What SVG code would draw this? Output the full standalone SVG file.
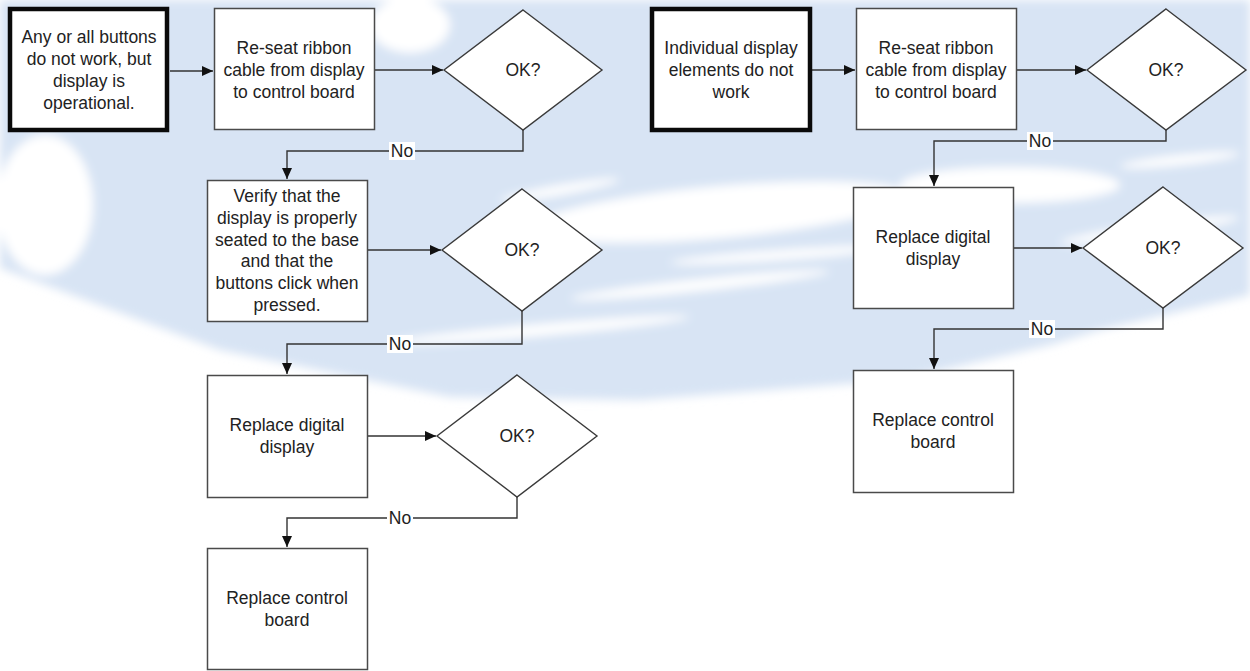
<svg xmlns="http://www.w3.org/2000/svg" width="1250" height="671" viewBox="0 0 1250 671">
<defs>
<style>
.t{font-family:"Liberation Sans",Arial,sans-serif;font-size:17.5px;fill:#222;text-anchor:middle}
.box{fill:#fff;stroke:#4a4a4a;stroke-width:1.5}
.start{fill:#fff;stroke:#0a0a0a;stroke-width:4.5}
.dia{fill:#fff;stroke:#3a3a3a;stroke-width:1.4}
.c{fill:none;stroke:#333;stroke-width:1.4}
.lb{fill:#fff}
.w{fill:#fff}
</style>
<marker id="ah" markerUnits="userSpaceOnUse" markerWidth="12" markerHeight="10" refX="11" refY="5" orient="auto">
<path d="M0,0 L11,5 L0,10 z" fill="#111"/>
</marker>
<filter id="blur" x="-10%" y="-10%" width="120%" height="120%"><feGaussianBlur stdDeviation="5"/></filter>
</defs>
<rect width="1250" height="671" fill="#fff"/>
<g id="watermark" filter="url(#blur)">
<path d="M0,0 L1250,0 L1250,295 L1100,330 L1050,345 L900,380 L640,400 L450,397 L220,350 L0,268 Z" fill="#d8e4f4"/>
<ellipse class="w" cx="45" cy="205" rx="48" ry="70"/>
<ellipse class="w" cx="720" cy="212" rx="190" ry="26" transform="rotate(-5 720 212)"/>
<ellipse class="w" cx="1010" cy="185" rx="110" ry="18"/>
<ellipse class="w" cx="540" cy="330" rx="150" ry="6" transform="rotate(-5 540 330)"/>
<ellipse class="w" cx="700" cy="285" rx="130" ry="6" transform="rotate(-6 700 285)"/>
<ellipse class="w" cx="780" cy="255" rx="110" ry="5" transform="rotate(-4 780 255)"/>
<ellipse class="w" cx="410" cy="25" rx="40" ry="28"/>
<ellipse class="w" cx="1150" cy="230" rx="90" ry="6" transform="rotate(-8 1150 230)"/>
<ellipse class="w" cx="1180" cy="160" rx="60" ry="5" transform="rotate(-6 1180 160)"/>
<ellipse class="w" cx="560" cy="190" rx="60" ry="5" transform="rotate(-10 560 190)"/>
</g>
<g id="connectors">
<path class="c" d="M170,71 H213" marker-end="url(#ah)"/>
<path class="c" d="M375,70 H443" marker-end="url(#ah)"/>
<path class="c" d="M523,130 V151 H287 V179" marker-end="url(#ah)"/>
<path class="c" d="M368,250 H441" marker-end="url(#ah)"/>
<path class="c" d="M522,311 V344 H287 V374" marker-end="url(#ah)"/>
<path class="c" d="M368,436 H436" marker-end="url(#ah)"/>
<path class="c" d="M517,497 V518 H287 V547" marker-end="url(#ah)"/>
<path class="c" d="M812,70 H855" marker-end="url(#ah)"/>
<path class="c" d="M1017,70 H1086" marker-end="url(#ah)"/>
<path class="c" d="M1166,130 V141 H934 V186" marker-end="url(#ah)"/>
<path class="c" d="M1014,248 H1082" marker-end="url(#ah)"/>
<path class="c" d="M1163,308 V329 H934 V369" marker-end="url(#ah)"/>
<rect class="lb" x="389" y="142" width="26" height="18"/><text class="t" x="402" y="157">No</text>
<rect class="lb" x="387" y="335" width="26" height="18"/><text class="t" x="400" y="350">No</text>
<rect class="lb" x="387" y="509" width="26" height="18"/><text class="t" x="400" y="524">No</text>
<rect class="lb" x="1027" y="132" width="26" height="18"/><text class="t" x="1040" y="147">No</text>
<rect class="lb" x="1029" y="320" width="26" height="18"/><text class="t" x="1042" y="335">No</text>
</g>
<g id="start1"><rect class="start" x="10" y="9" width="157" height="121"/>
<text class="t" x="89" y="43">Any or all buttons</text><text class="t" x="89" y="65">do not work, but</text><text class="t" x="89" y="87">display is</text><text class="t" x="89" y="109">operational.</text></g>
<g id="reseat1"><rect class="box" x="214.5" y="8.5" width="160" height="121"/>
<text class="t" x="294" y="54">Re-seat ribbon</text><text class="t" x="294" y="76">cable from display</text><text class="t" x="294" y="98">to control board</text></g>
<g id="ok1"><polygon class="dia" points="523,10 602,70 523,130 444,70"/><text class="t" x="523" y="76">OK?</text></g>
<g id="verify"><rect class="box" x="207.5" y="180.5" width="160" height="141"/>
<text class="t" x="287" y="202">Verify that the</text><text class="t" x="287" y="224">display is properly</text><text class="t" x="287" y="246">seated to the base</text><text class="t" x="287" y="267">and that the</text><text class="t" x="287" y="289">buttons click when</text><text class="t" x="287" y="311">pressed.</text></g>
<g id="ok2"><polygon class="dia" points="522,189 602,250 522,311 442,250"/><text class="t" x="522" y="256">OK?</text></g>
<g id="digital1"><rect class="box" x="207.5" y="375.5" width="160" height="122"/>
<text class="t" x="287" y="431">Replace digital</text><text class="t" x="287" y="453">display</text></g>
<g id="ok3"><polygon class="dia" points="517,375 597,436 517,497 437,436"/><text class="t" x="517" y="442">OK?</text></g>
<g id="control1"><rect class="box" x="207.5" y="548.5" width="160" height="121"/>
<text class="t" x="287" y="604">Replace control</text><text class="t" x="287" y="626">board</text></g>
<g id="start2"><rect class="start" x="652" y="9" width="158" height="121"/>
<text class="t" x="731" y="54">Individual display</text><text class="t" x="731" y="76">elements do not</text><text class="t" x="731" y="98">work</text></g>
<g id="reseat2"><rect class="box" x="856.5" y="8.5" width="160" height="121"/>
<text class="t" x="936" y="54">Re-seat ribbon</text><text class="t" x="936" y="76">cable from display</text><text class="t" x="936" y="98">to control board</text></g>
<g id="ok4"><polygon class="dia" points="1166,9 1246,70 1166,130 1087,70"/><text class="t" x="1166" y="76">OK?</text></g>
<g id="digital2"><rect class="box" x="853.5" y="187.5" width="160" height="121"/>
<text class="t" x="933" y="243">Replace digital</text><text class="t" x="933" y="265">display</text></g>
<g id="ok5"><polygon class="dia" points="1163,187 1243,248 1163,308 1083,248"/><text class="t" x="1163" y="254">OK?</text></g>
<g id="control2"><rect class="box" x="853.5" y="370.5" width="160" height="122"/>
<text class="t" x="933" y="426">Replace control</text><text class="t" x="933" y="448">board</text></g>
</svg>
